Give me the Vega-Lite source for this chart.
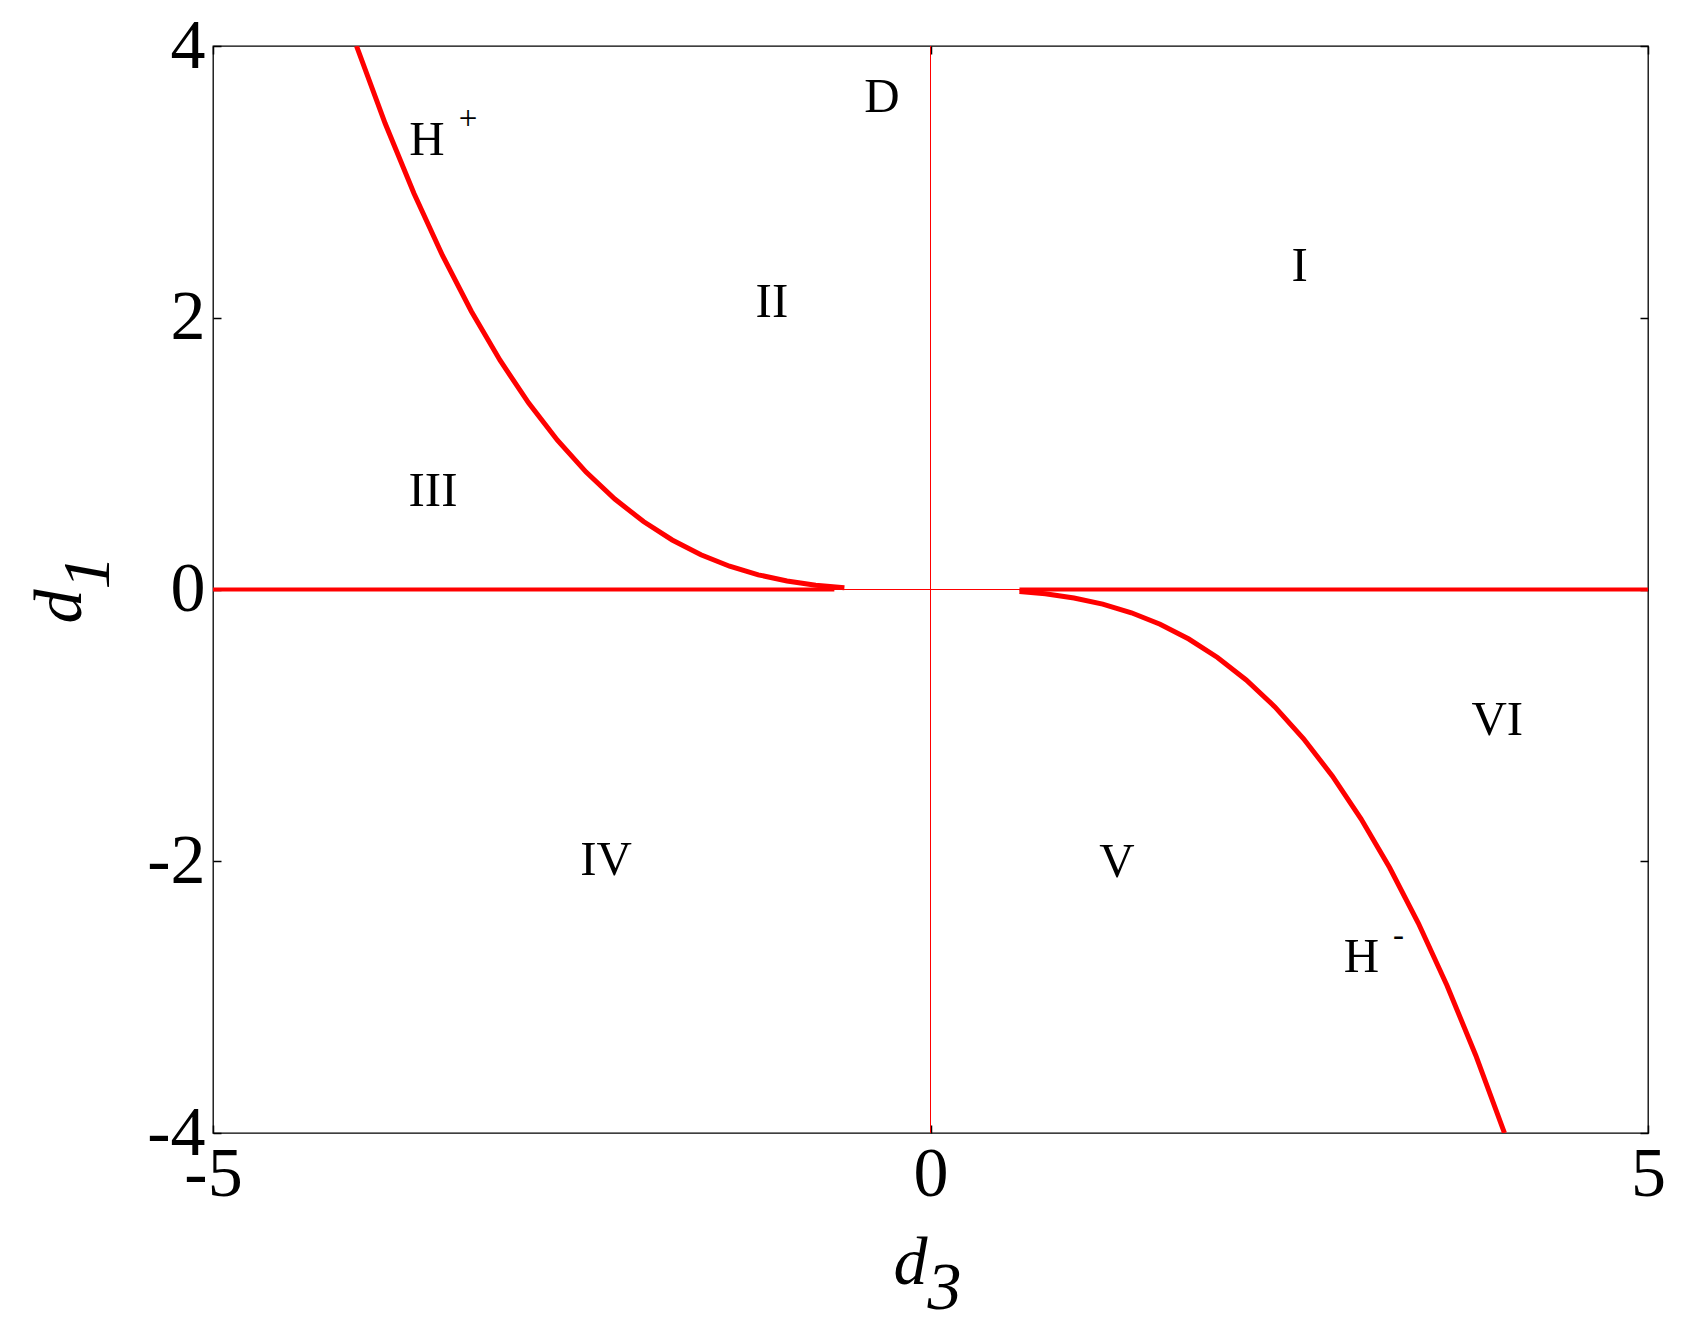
{
  "$schema": "https://vega.github.io/schema/vega-lite/v6.json",
  "width": 1435,
  "height": 1087,
  "autosize": {"type": "none"},
  "padding": {"left": 213, "top": 46, "right": 46, "bottom": 203},
  "background": "white",
  "config": {
    "view": {"stroke": "black", "strokeWidth": 1.3},
    "font": "Liberation Serif",
    "axis": {"grid": false, "domain": false, "labelFont": "Liberation Serif", "titleFont": "Liberation Serif", "labelColor": "black", "titleColor": "black", "tickColor": "black", "tickWidth": 1.5, "labelFlush": false, "labelOverlap": false, "labelBound": false}
  },
  "datasets": {
    "lines": [
      {"series": "thinH", "d3": -5, "d1": 0},
      {"series": "thinH", "d3": 5, "d1": 0},
      {"series": "thinV", "d3": 0, "d1": -4},
      {"series": "thinV", "d3": 0, "d1": 4},
      {"series": "zeroL", "d3": -5, "d1": 0},
      {"series": "zeroL", "d3": -0.67, "d1": 0},
      {"series": "zeroR", "d3": 0.62, "d1": 0},
      {"series": "zeroR", "d3": 5, "d1": 0},
      {"series": "Hplus", "d3": -4.0, "d1": 4.0},
      {"series": "Hplus", "d3": -3.8, "d1": 3.4295},
      {"series": "Hplus", "d3": -3.6, "d1": 2.916},
      {"series": "Hplus", "d3": -3.4, "d1": 2.4565},
      {"series": "Hplus", "d3": -3.2, "d1": 2.048},
      {"series": "Hplus", "d3": -3.0, "d1": 1.6875},
      {"series": "Hplus", "d3": -2.8, "d1": 1.372},
      {"series": "Hplus", "d3": -2.6, "d1": 1.0985},
      {"series": "Hplus", "d3": -2.4, "d1": 0.864},
      {"series": "Hplus", "d3": -2.2, "d1": 0.6655},
      {"series": "Hplus", "d3": -2.0, "d1": 0.5},
      {"series": "Hplus", "d3": -1.8, "d1": 0.3645},
      {"series": "Hplus", "d3": -1.6, "d1": 0.256},
      {"series": "Hplus", "d3": -1.4, "d1": 0.1715},
      {"series": "Hplus", "d3": -1.2, "d1": 0.108},
      {"series": "Hplus", "d3": -1.0, "d1": 0.0625},
      {"series": "Hplus", "d3": -0.8, "d1": 0.032},
      {"series": "Hplus", "d3": -0.6, "d1": 0.0135},
      {"series": "Hminus", "d3": 0.62, "d1": -0.0149},
      {"series": "Hminus", "d3": 0.8, "d1": -0.032},
      {"series": "Hminus", "d3": 1.0, "d1": -0.0625},
      {"series": "Hminus", "d3": 1.2, "d1": -0.108},
      {"series": "Hminus", "d3": 1.4, "d1": -0.1715},
      {"series": "Hminus", "d3": 1.6, "d1": -0.256},
      {"series": "Hminus", "d3": 1.8, "d1": -0.3645},
      {"series": "Hminus", "d3": 2.0, "d1": -0.5},
      {"series": "Hminus", "d3": 2.2, "d1": -0.6655},
      {"series": "Hminus", "d3": 2.4, "d1": -0.864},
      {"series": "Hminus", "d3": 2.6, "d1": -1.0985},
      {"series": "Hminus", "d3": 2.8, "d1": -1.372},
      {"series": "Hminus", "d3": 3.0, "d1": -1.6875},
      {"series": "Hminus", "d3": 3.2, "d1": -2.048},
      {"series": "Hminus", "d3": 3.4, "d1": -2.4565},
      {"series": "Hminus", "d3": 3.6, "d1": -2.916},
      {"series": "Hminus", "d3": 3.8, "d1": -3.4295},
      {"series": "Hminus", "d3": 4.0, "d1": -4.0}
    ],
    "labels": [
      {"label": "D", "d3": -0.338, "d1": 3.514},
      {"label": "H", "d3": -3.509, "d1": 3.197},
      {"label": "II", "d3": -1.105, "d1": 2.007},
      {"label": "I", "d3": 2.573, "d1": 2.272},
      {"label": "III", "d3": -3.467, "d1": 0.617},
      {"label": "IV", "d3": -2.261, "d1": -2.10},
      {"label": "V", "d3": 1.30, "d1": -2.118},
      {"label": "VI", "d3": 3.95, "d1": -1.068},
      {"label": "H", "d3": 3.003, "d1": -2.815}
    ],
    "sups": [
      {"label": "+", "d3": -3.223, "d1": 3.389},
      {"label": "-", "d3": 3.261, "d1": -2.627}
    ]
  },
  "layer": [
    {
      "data": {"name": "lines"},
      "transform": [{"filter": "datum.series == 'thinH' || datum.series == 'thinV'"}],
      "mark": {"type": "line", "color": "#ff0000", "strokeWidth": 1, "clip": true},
      "encoding": {
        "x": {"field": "d3", "type": "quantitative", "scale": {"domain": [-5, 5], "nice": false, "zero": false},
          "axis": {"orient": "bottom", "values": [-5, 0, 5], "labelExpr": "'' + datum.value", "labelFontSize": 70, "labelBaseline": "alphabetic", "labelPadding": 70, "tickSize": -8,
            "title": ["d", "\u200b\u00a0\u00a03"], "titleFontSize": 68, "titleFontStyle": "italic", "titleFontWeight": "normal", "titleAlign": "left", "titleBaseline": "alphabetic", "titleX": 680, "titleY": 150, "titleLineHeight": 25}},
        "y": {"field": "d1", "type": "quantitative", "scale": {"domain": [-4, 4], "nice": false, "zero": false},
          "axis": {"orient": "left", "values": [-4, -2, 0, 2, 4], "labelExpr": "'' + datum.value", "labelFontSize": 70, "labelPadding": 16, "tickSize": -8,
            "title": ["d", "\u200b\u00a0\u00a01"], "titleFontSize": 68, "titleFontStyle": "italic", "titleFontWeight": "normal", "titleAngle": 270, "titleAlign": "left", "titleBaseline": "alphabetic", "titleX": -133, "titleY": 577, "titleLineHeight": 28}},
        "detail": {"field": "series"}
      }
    },
    {
      "data": {"name": "lines"},
      "transform": [{"filter": "datum.series == 'zeroL' || datum.series == 'zeroR'"}],
      "mark": {"type": "line", "color": "#ff0000", "strokeWidth": 4, "clip": true},
      "encoding": {
        "x": {"field": "d3", "type": "quantitative", "axis": null},
        "y": {"field": "d1", "type": "quantitative", "axis": null},
        "detail": {"field": "series"}
      }
    },
    {
      "data": {"name": "lines"},
      "transform": [{"filter": "datum.series == 'Hplus' || datum.series == 'Hminus'"}],
      "mark": {"type": "line", "color": "#ff0000", "strokeWidth": 5, "clip": true},
      "encoding": {
        "x": {"field": "d3", "type": "quantitative", "axis": null},
        "y": {"field": "d1", "type": "quantitative", "axis": null},
        "detail": {"field": "series"}
      }
    },
    {
      "data": {"name": "labels"},
      "mark": {"type": "text", "font": "Liberation Serif", "fontSize": 49, "color": "black", "align": "center", "baseline": "alphabetic"},
      "encoding": {
        "x": {"field": "d3", "type": "quantitative",
          "axis": {"orient": "top", "values": [-5, 0, 5], "labels": false, "tickSize": -8, "title": null}},
        "y": {"field": "d1", "type": "quantitative",
          "axis": {"orient": "right", "values": [-4, -2, 0, 2, 4], "labels": false, "tickSize": -8, "title": null}},
        "text": {"field": "label"}
      }
    },
    {
      "data": {"name": "sups"},
      "mark": {"type": "text", "font": "Liberation Serif", "fontSize": 33, "color": "black", "align": "center", "baseline": "alphabetic"},
      "encoding": {
        "x": {"field": "d3", "type": "quantitative", "axis": null},
        "y": {"field": "d1", "type": "quantitative", "axis": null},
        "text": {"field": "label"}
      }
    }
  ],
  "resolve": {"axis": {"x": "independent", "y": "independent"}}
}
